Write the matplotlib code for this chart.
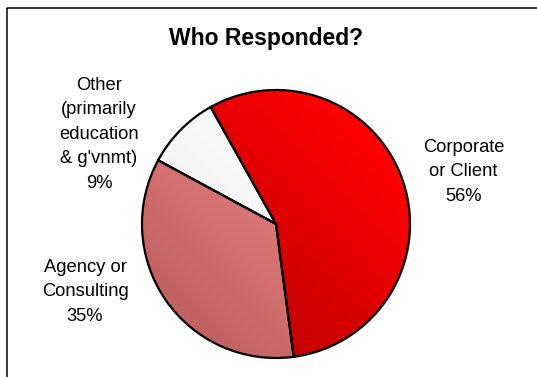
import numpy as np
import matplotlib
matplotlib.use("Agg")
import matplotlib.pyplot as plt
from matplotlib.colors import LinearSegmentedColormap
from matplotlib.lines import Line2D

plt.rcParams['font.family'] = ['Liberation Sans', 'DejaVu Sans']

# data
labels = ['Corporate\nor Client', 'Agency or\nConsulting', 'Other\n(primarily\neducation\n& g\'vnmt)']
shares = [56, 35, 9]
# light (top-right) -> dark (bottom-left) shades per slice
light_colors = ['#ff0000', '#f48a8a', '#ffffff']
dark_colors = ['#b80000', '#c26262', '#f0f0f0']
label_pos = [(1.40, 0.39), (-1.425, -0.507), (-1.32, 0.67)]

W, H = 537, 377
fig = plt.figure(figsize=(W / 100, H / 100), dpi=100)

R = 134  # pie radius in px
cx, cy = 276, 224
pad = 1.1
ax = fig.add_axes([(cx - pad * R) / W, 1 - (cy + pad * R) / H, 2 * pad * R / W, 2 * pad * R / H])

wedges, _ = ax.pie(shares, startangle=119.2, counterclock=False, radius=1,
                   wedgeprops=dict(edgecolor='black', linewidth=1.6, facecolor='none'))

# diagonal gradient fill for each wedge
xx, yy = np.meshgrid(np.linspace(-1, 1, 300), np.linspace(-1, 1, 300))
t = np.clip((xx + yy) / 2.6 + 0.5, 0, 1)
for w, c0, c1 in zip(wedges, dark_colors, light_colors):
    cmap = LinearSegmentedColormap.from_list('g', [c0, c1])
    im = ax.imshow(t, cmap=cmap, extent=(-1, 1, -1, 1), origin='lower', zorder=0.5,
                   interpolation='bilinear')
    im.set_clip_path(w)
    w.set_zorder(1)
    w.set_clip_on(False)
ax.set_xlim(-pad, pad)
ax.set_ylim(-pad, pad)
ax.set_aspect('equal')
ax.axis('off')

for lab, s, (lx, ly) in zip(labels, shares, label_pos):
    ax.text(lx, ly, f'{lab}\n{s}%', ha='center', va='center', fontsize=13.2,
            linespacing=1.57, color='black')

fig.text(266 / W, 1 - 38 / H, 'Who Responded?', ha='center', va='center',
         fontsize=16.5, fontweight='bold')

# frame (only top and left edges visible in the crop)
fig.add_artist(Line2D([7.5 / W, 7.5 / W, 1.01], [-0.01, 1 - 7.5 / H, 1 - 7.5 / H],
                      color='black', linewidth=1.1))

fig.savefig('out.png', dpi=100)
